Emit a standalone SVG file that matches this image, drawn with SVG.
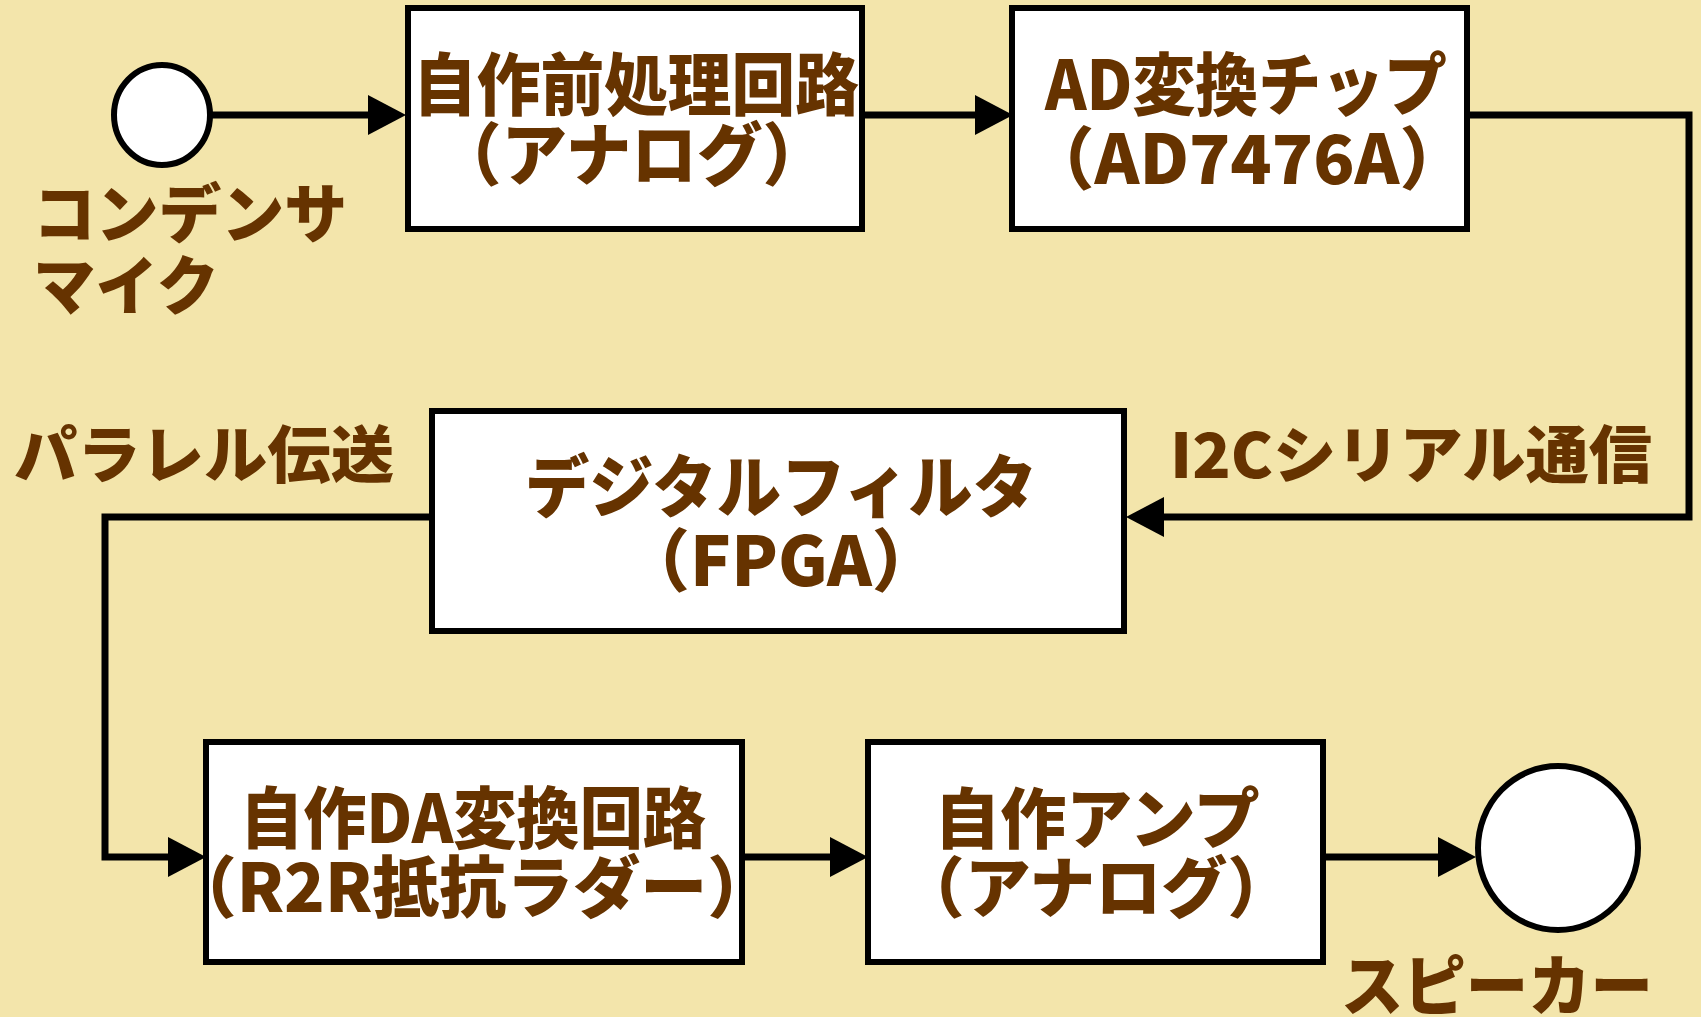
<svg xmlns="http://www.w3.org/2000/svg" width="1701" height="1017" viewBox="0 0 1701 1017">
<defs>
<style>
.box{fill:#fff;stroke:#000;stroke-width:6}
.node-circle{fill:#fff;stroke:#000;stroke-width:6}
.conn{fill:none;stroke:#000;stroke-width:7}
.t{font-family:"Noto Sans CJK JP","Noto Sans",sans-serif;font-weight:900;fill:#663300}
.c{text-anchor:middle}
</style>
<marker id="arr" markerUnits="userSpaceOnUse" markerWidth="40" markerHeight="42" refX="2" refY="21" orient="auto" viewBox="0 0 40 42">
<path d="M0,1 L38,21 L0,41 Z" fill="#000"/>
</marker>
</defs>
<rect width="1701" height="1017" fill="#F3E5AB"/>

<g id="connectors">
<line class="conn" x1="211" y1="115" x2="370" y2="115" marker-end="url(#arr)"/>
<line class="conn" x1="862" y1="115" x2="977" y2="115" marker-end="url(#arr)"/>
<polyline class="conn" points="1467,115 1689,115 1689,517 1162,517" marker-end="url(#arr)"/>
<polyline class="conn" points="432,517 105,517 105,857 170,857" marker-end="url(#arr)"/>
<line class="conn" x1="742" y1="857" x2="832" y2="857" marker-end="url(#arr)"/>
<line class="conn" x1="1323" y1="857" x2="1440" y2="857" marker-end="url(#arr)"/>
</g>

<g id="mic">
<ellipse class="node-circle" cx="162" cy="115" rx="48" ry="50"/>
<text class="t" font-size="64"><tspan x="33" y="237" textLength="314" lengthAdjust="spacingAndGlyphs">コンデンサ</tspan><tspan x="33" y="309" textLength="186" lengthAdjust="spacingAndGlyphs">マイク</tspan></text>
</g>

<g id="preamp">
<rect class="box" x="408" y="8" width="454" height="221"/>
<text class="t c" font-size="68"><tspan x="636" y="110" textLength="446" lengthAdjust="spacingAndGlyphs">自作前処理回路</tspan><tspan x="632" y="180" textLength="392" lengthAdjust="spacingAndGlyphs">（アナログ）</tspan></text>
</g>

<g id="adc">
<rect class="box" x="1012" y="8" width="455" height="221"/>
<text class="t c" font-size="68"><tspan x="1246" y="110" textLength="402" lengthAdjust="spacingAndGlyphs">AD変換チップ</tspan><tspan x="1247" y="184">（AD7476A）</tspan></text>
</g>

<g id="fpga">
<rect class="box" x="432" y="411" width="692" height="220"/>
<text class="t c" font-size="68"><tspan x="781" y="512" textLength="512" lengthAdjust="spacingAndGlyphs">デジタルフィルタ</tspan><tspan x="781" y="586">（FPGA）</tspan></text>
</g>

<g id="dac">
<rect class="box" x="206" y="742" width="536" height="220"/>
<text class="t c" font-size="67"><tspan x="473" y="843" textLength="466" lengthAdjust="spacingAndGlyphs">自作DA変換回路</tspan><tspan x="472" y="912">（R2R抵抗ラダー）</tspan></text>
</g>

<g id="amp">
<rect class="box" x="868" y="742" width="455" height="220"/>
<text class="t c" font-size="66"><tspan x="1097" y="843">自作アンプ</tspan><tspan x="1096" y="912">（アナログ）</tspan></text>
</g>

<g id="speaker">
<ellipse class="node-circle" cx="1558" cy="848" rx="80" ry="82"/>
<text class="t" x="1341" y="1010" font-size="66" textLength="312" lengthAdjust="spacingAndGlyphs">スピーカー</text>
</g>

<g id="labels">
<text class="t" x="14" y="478" font-size="62" textLength="380" lengthAdjust="spacingAndGlyphs">パラレル伝送</text>
<text class="t" x="1170" y="478" font-size="62" textLength="482" lengthAdjust="spacingAndGlyphs">I2Cシリアル通信</text>
</g>
</svg>
